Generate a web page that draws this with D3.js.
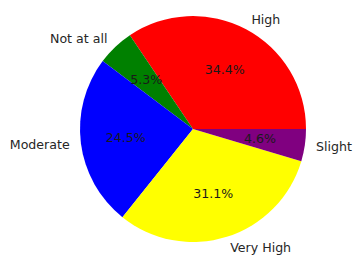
<!DOCTYPE html>
<html>
<head>
<meta charset="utf-8">
<script src="https://cdn.jsdelivr.net/npm/d3@7"></script>
<style>
  body { margin: 0; background: #fff; }
  svg { display: block; font-family: "DejaVu Sans", sans-serif; }
</style>
</head>
<body>
<svg id="chart" width="355" height="257"></svg>
<script>
const categories = ['High', 'Not at all', 'Moderate', 'Very High', 'Slight'];
const shares = [34.4, 5.3, 24.5, 31.1, 4.6];
const colours = ['#ff0000', '#008000', '#0000ff', '#ffff00', '#800080'];

const width = 355;
const height = 257;
const cx = 193;
const cy = 129;
const r = 113;

const svg = d3.select('#chart');
const g = svg.append('g').attr('transform', 'translate(' + cx + ',' + cy + ')');

// matplotlib style: start at 3 o'clock, go counterclockwise
const pie = d3.pie()
  .sort(null)
  .startAngle(Math.PI / 2)
  .endAngle(Math.PI / 2 - 2 * Math.PI);

const arcs = pie(shares.map((v, i) => ({ v, i })).map(d => d.v));
const arc = d3.arc().innerRadius(0).outerRadius(r);

g.selectAll('path.slice')
  .data(arcs)
  .enter()
  .append('path')
  .attr('class', 'slice')
  .attr('d', arc)
  .attr('fill', (d, i) => colours[i]);

function mid(d) { return (d.startAngle + d.endAngle) / 2; }

// category labels at 1.1 r
g.selectAll('text.cat')
  .data(arcs)
  .enter()
  .append('text')
  .attr('class', 'cat')
  .attr('x', d => Math.sin(mid(d)) * r * 1.1)
  .attr('y', d => -Math.cos(mid(d)) * r * 1.1)
  .attr('dy', '0.35em')
  .attr('text-anchor', d => Math.sin(mid(d)) > 0 ? 'start' : 'end')
  .style('font-size', '12.6px')
  .style('fill', '#262626')
  .text((d, i) => categories[i]);

// percentages at 0.6 r
g.selectAll('text.pct')
  .data(arcs)
  .enter()
  .append('text')
  .attr('class', 'pct')
  .attr('x', d => Math.sin(mid(d)) * r * 0.6)
  .attr('y', d => -Math.cos(mid(d)) * r * 0.6)
  .attr('dy', '0.35em')
  .attr('text-anchor', 'middle')
  .style('font-size', '12.6px')
  .style('fill', '#1a1a1a')
  .text((d, i) => shares[i].toFixed(1) + '%');
</script>
</body>
</html>
